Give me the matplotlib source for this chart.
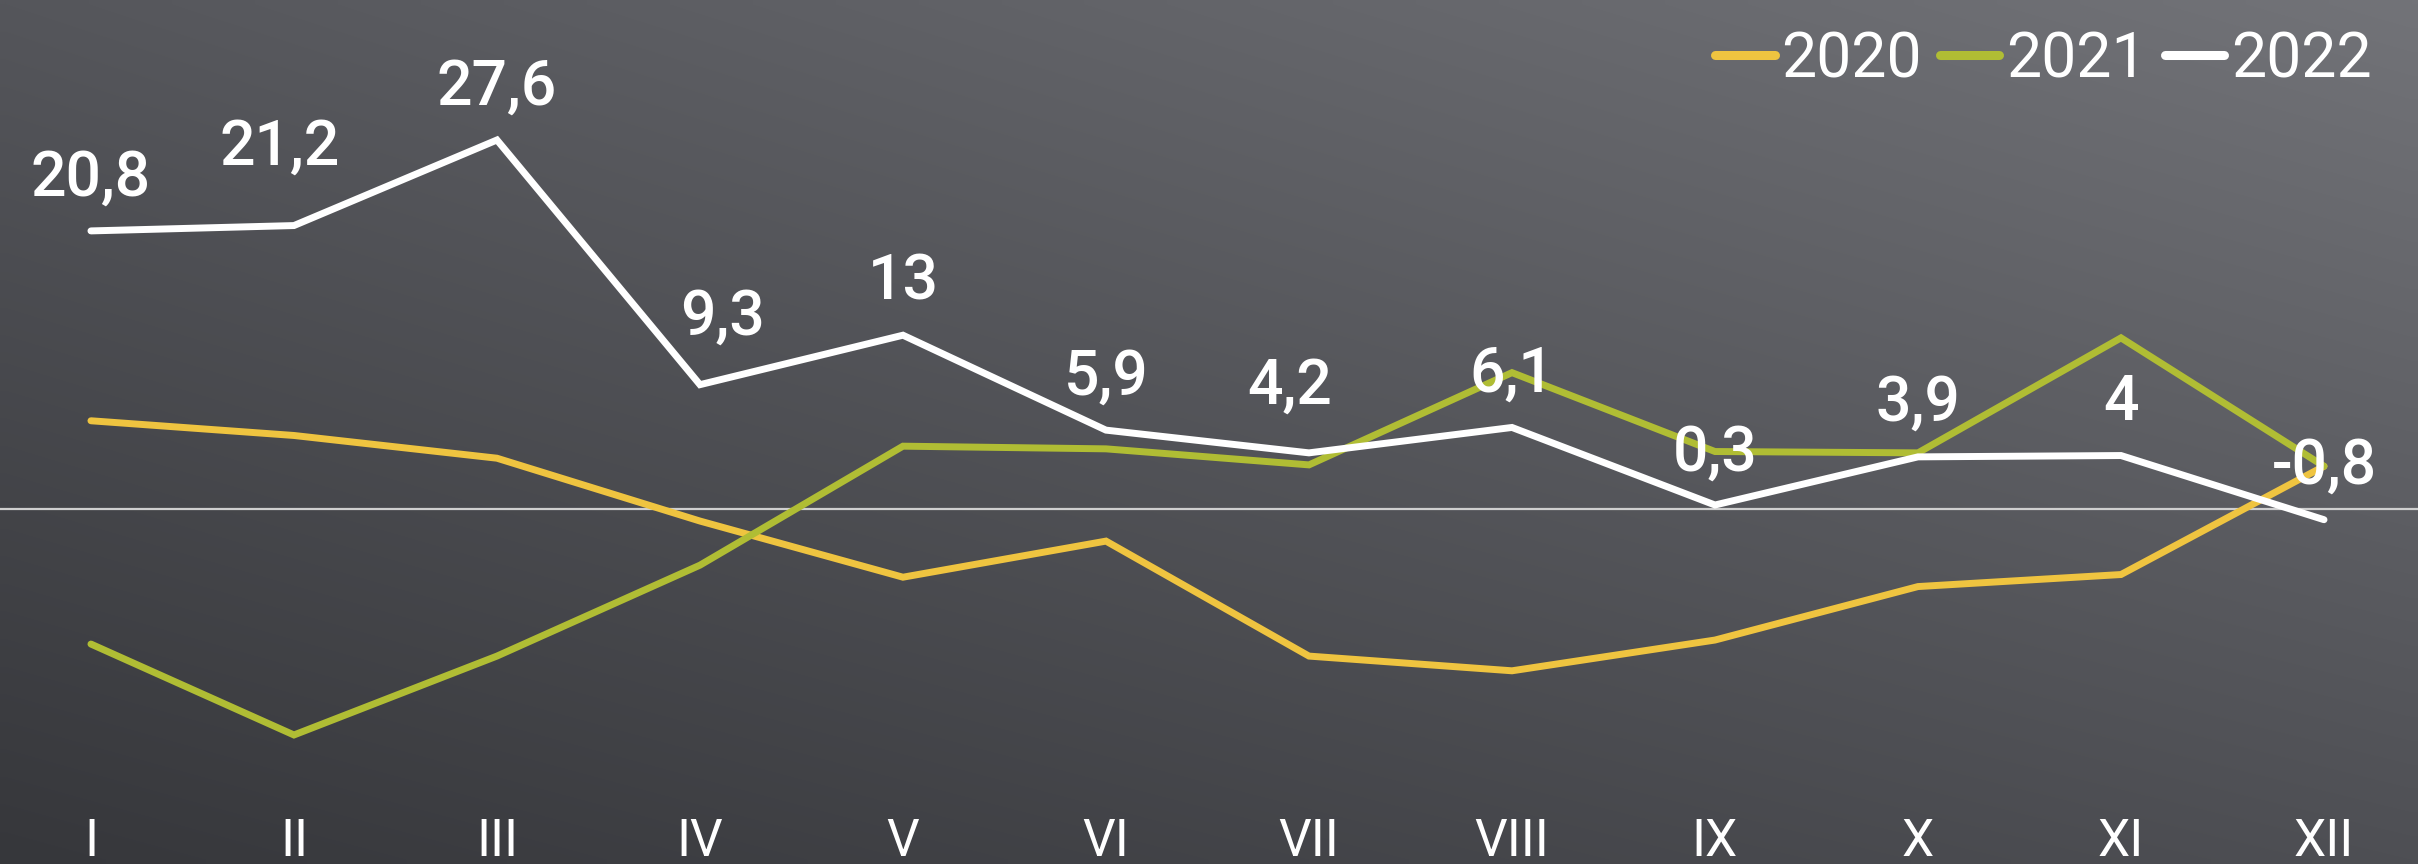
import numpy as np
import matplotlib
matplotlib.use("Agg")
import matplotlib.pyplot as plt
from matplotlib.colors import to_rgb

months = ["I", "II", "III", "IV", "V", "VI", "VII", "VIII", "IX", "X", "XI", "XII"]
series_names = ["2020", "2021", "2022"]
v2020 = [6.6, 5.5, 3.8, -0.9, -5.1, -2.4, -11.0, -12.1, -9.8, -5.8, -4.9, 3.2]
v2021 = [-10.1, -16.9, -11.0, -4.2, 4.7, 4.5, 3.3, 10.2, 4.3, 4.2, 12.8, 3.2]
v2022 = [20.8, 21.2, 27.6, 9.3, 13, 5.9, 4.2, 6.1, 0.3, 3.9, 4, -0.8]
labels2022 = ["20,8", "21,2", "27,6", "9,3", "13", "5,9", "4,2", "6,1", "0,3", "3,9", "4", "-0,8"]

colors = ["#EFC440", "#B0BD34", "#FFFFFF"]
# label offsets (points) for the 2022 data labels
lab_dx = [0, -10, 0, 16, 0, 0, -14, 0, 0, 0, 0, 0]
lab_dy = [38, 56, 38, 48, 38, 38, 48, 38, 37, 38, 38, 38]

W, H, DPI = 24.18, 8.64, 100
fig = plt.figure(figsize=(W, H), dpi=DPI)

# background gradient
bg = fig.add_axes([0, 0, 1, 1], zorder=0)
bg.set_axis_off()
ny, nx = 100, 200
tl, tr = np.array(to_rgb("#55565b")), np.array(to_rgb("#727378"))
bl, br = np.array(to_rgb("#36373b")), np.array(to_rgb("#4e4f54"))
u = np.linspace(0, 1, nx)[None, :, None]
v = np.linspace(0, 1, ny)[:, None, None]
img = (1 - v) * ((1 - u) * tl + u * tr) + v * ((1 - u) * bl + u * br)
bg.imshow(img, aspect="auto", extent=[0, 1, 0, 1], interpolation="bilinear")
bg.set_xlim(0, 1); bg.set_ylim(0, 1)

ax = fig.add_axes([0, 0, 1, 1], zorder=1)
ax.patch.set_alpha(0)
x = np.arange(len(months))
for name, vals, c in zip(series_names, [v2020, v2021, v2022], colors):
    ax.plot(x, vals, color=c, lw=5.0, label=name, solid_joinstyle="miter",
            solid_capstyle="round", zorder=3)

ax.axhline(0, color="#cfcfcf", lw=1.6, zorder=2)

for xi, yi, t, dx, dy in zip(x, v2022, labels2022, lab_dx, lab_dy):
    ax.annotate(t, (xi, yi), xytext=(dx, dy), textcoords="offset points",
                ha="center", va="center", color="white", fontsize=45,
                family=["Roboto", "DejaVu Sans"], fontweight="medium", zorder=5)

ax.set_xlim(-0.448, 11.463)
ax.set_ylim(-26.55, 38.07)
ax.set_xticks(x)
ax.set_xticklabels(months, family=["Roboto", "DejaVu Sans"], fontweight="normal")
ax.tick_params(axis="x", length=0, pad=-34, labelsize=37, labelcolor="white")
ax.set_yticks([])
for s in ax.spines.values():
    s.set_visible(False)

leg = ax.legend(loc="upper right", ncol=3, frameon=False,
                bbox_to_anchor=(1.004, 1.03), handlelength=0.95,
                handletextpad=0.1, columnspacing=0.3,
                prop={"family": ["Roboto", "DejaVu Sans"], "weight": "normal", "size": 45})
for t in leg.get_texts():
    t.set_color("white")
for h in leg.get_lines():
    h.set_linewidth(6.5)

fig.savefig("out.png", dpi=DPI)
